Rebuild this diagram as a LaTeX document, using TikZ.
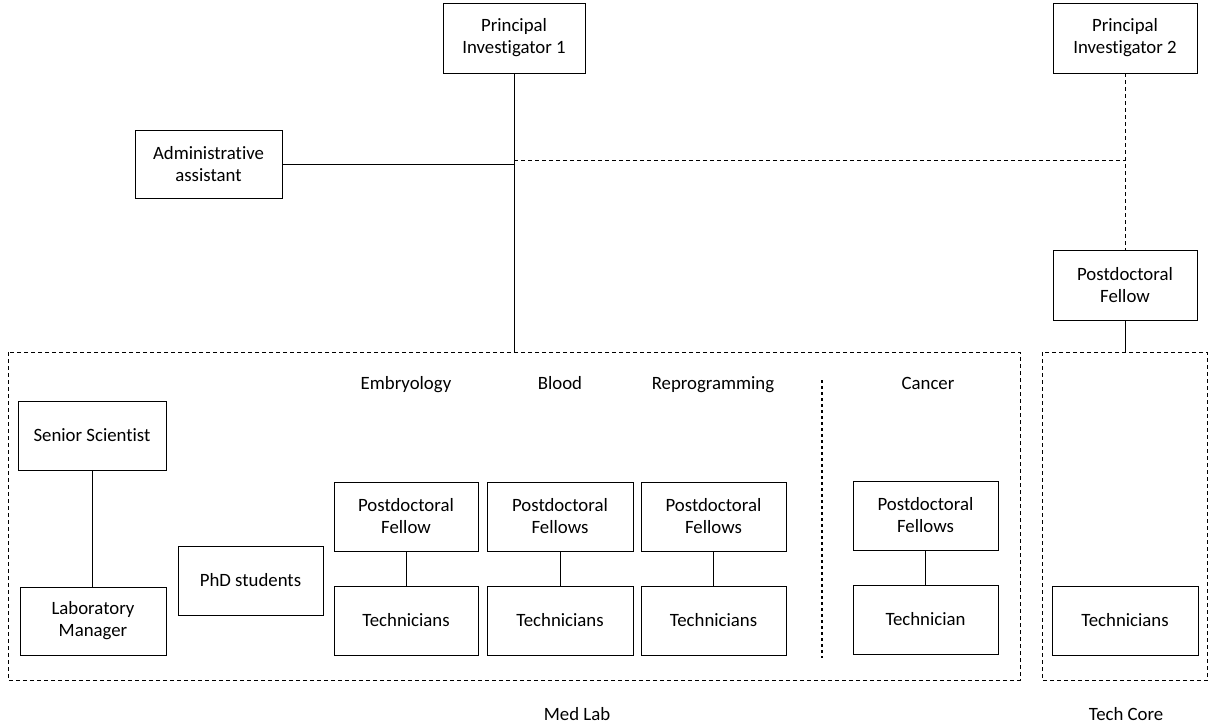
\documentclass[tikz,border=0pt]{standalone}
\usepackage{fontspec}
\setmainfont{Carlito}[Ligatures=NoCommon]
\begin{document}
\begin{tikzpicture}[x=1pt,y=-1pt,
  every node/.style={font=\fontsize{18.8}{22}\selectfont},
  box/.style={draw, line width=0.9pt, align=center, inner sep=0pt, minimum height=69pt},
  conn/.style={line width=0.9pt},
  dconn/.style={line width=0.9pt, dash pattern=on 4pt off 3pt},
  region/.style={line width=0.9pt, dash pattern=on 4pt off 3pt},
  divider/.style={line width=1.1pt, dash pattern=on 3pt off 3pt},
  lbl/.style={inner sep=0pt, text height=13pt, text depth=4pt}]
\useasboundingbox (0,0) rectangle (1210,728);

% regions
\draw[region] (8,352) rectangle (1020,680);
\draw[region] (1042,352) rectangle (1207.5,680);
\draw[divider] (822,380) -- (822,658);

% top nodes
\node[box, minimum width=142pt, minimum height=70pt] (pi1) at (514,38) {Principal\\Investigator 1};
\node[box, minimum width=144pt, minimum height=70pt] (pi2) at (1125,38) {Principal\\Investigator 2};
\node[box, minimum width=147pt, minimum height=68pt] (admin) at (208.5,164) {Administrative\\assistant};
\node[box, minimum width=144pt, minimum height=70pt] (pdr) at (1125,285) {Postdoctoral\\Fellow};

% med lab nodes
\node[box, minimum width=148pt] (senior) at (92,435.5) {Senior Scientist};
\node[box, minimum width=146pt, minimum height=68pt] (labman) at (93,621) {Laboratory\\Manager};
\node[box, minimum width=145pt] (phd) at (250.5,580.5) {PhD students};

\node[box, minimum width=144pt] (pf1) at (406,516.5) {Postdoctoral\\Fellow};
\node[box, minimum width=144pt] (t1) at (406,620.5) {Technicians};
\node[box, minimum width=146pt] (pf2) at (560,516.5) {Postdoctoral\\Fellows};
\node[box, minimum width=146pt] (t2) at (560,620.5) {Technicians};
\node[box, minimum width=145pt] (pf3) at (713.5,516.5) {Postdoctoral\\Fellows};
\node[box, minimum width=145pt] (t3) at (713.5,620.5) {Technicians};
\node[box, minimum width=145pt] (pf4) at (925.5,515.5) {Postdoctoral\\Fellows};
\node[box, minimum width=145pt] (t4) at (925.5,619.5) {Technician};
\node[box, minimum width=146pt] (t5) at (1125,620.5) {Technicians};

% labels
\node[lbl] (lemb) at (406,385) {Embryology};
\node[lbl] (lblood) at (560,385) {Blood};
\node[lbl] (lrep) at (713,385) {Reprogramming};
\node[lbl] (lcan) at (928,385) {Cancer};
\node[lbl] (lmed) at (577,716) {Med Lab};
\node[lbl] (ltech) at (1126,716) {Tech Core};

% coordinates
\coordinate (medtop) at (514,352);
\coordinate (j1) at (514,164);
\coordinate (j2) at (514,160);
\coordinate (j3) at (1125,160);
\coordinate (techtop) at (1125,352);

% connectors
\draw[conn] (pi1.south) -- (medtop);
\draw[conn] (admin.east) -- (j1);
\draw[dconn] (j2) -- (j3);
\draw[dconn] (pi2.south) -- (pdr.north);
\draw[conn] (pdr.south) -- (techtop);
\draw[conn] (senior.south) -- (labman.north -| senior.south);
\draw[conn] (pf1) -- (t1);
\draw[conn] (pf2) -- (t2);
\draw[conn] (pf3) -- (t3);
\draw[conn] (pf4) -- (t4);
\end{tikzpicture}
\end{document}
